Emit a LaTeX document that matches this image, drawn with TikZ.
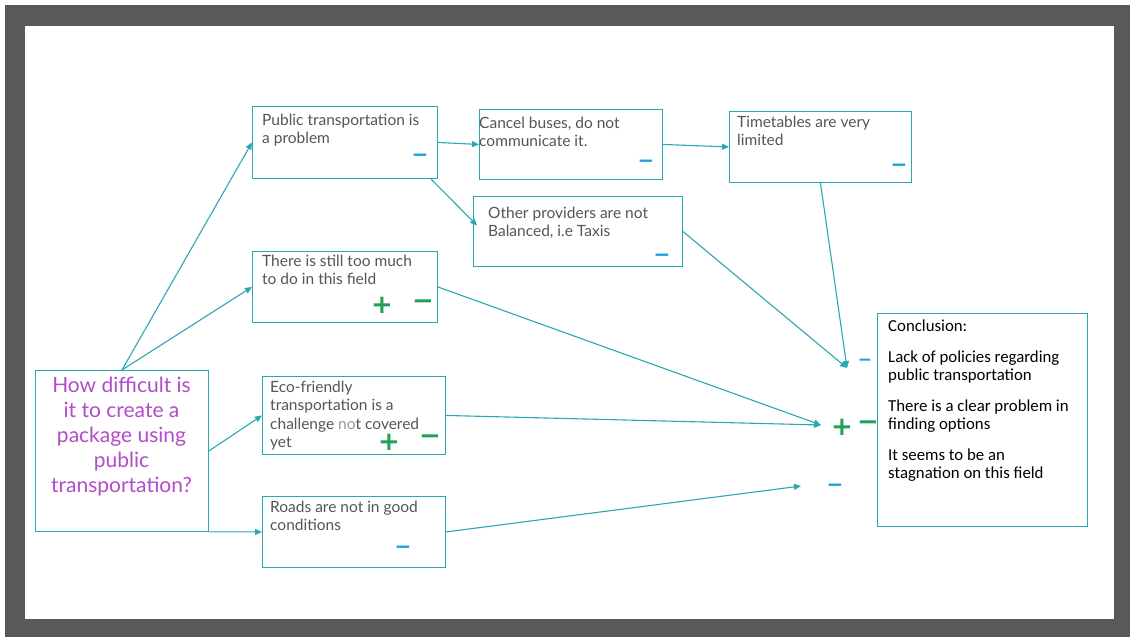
\documentclass[tikz,border=0pt]{standalone}
\usepackage{fontspec}
\setmainfont{Lato}
\newfontfamily\conclfont{Carlito}
\newfontfamily\signfont{DejaVu Sans}
\usetikzlibrary{arrows.meta,calc}
\definecolor{framegray}{HTML}{595959}
\definecolor{linkteal}{HTML}{2AA8B0}
\definecolor{boxtext}{HTML}{555555}
\definecolor{paletext}{HTML}{9A9A9A}
\definecolor{question}{HTML}{B24CC8}
\definecolor{signblue}{HTML}{1E9FD8}
\definecolor{signgreen}{HTML}{22A05A}
\tikzset{
  box/.style={draw=linkteal, line width=0.9pt, inner sep=0pt, anchor=north west},
  btxt/.style={anchor=north west, inner sep=0pt, align=left, text=boxtext,
    font=\fontsize{15.5}{18.2}\selectfont},
  link/.style={draw=linkteal, line width=1.1pt, -{Triangle[length=7pt,width=6pt]}},
  minusblue/.style={inner sep=0pt, text=signblue, font=\signfont\bfseries\fontsize{20}{20}\selectfont},
  signgr/.style={inner sep=0pt, text=signgreen, font=\signfont\bfseries\fontsize{26}{26}\selectfont},
}
\begin{document}
\begin{tikzpicture}[x=1pt,y=-1pt]
\useasboundingbox (0,0) rectangle (1130,637);
% slide frame
\fill[white] (0,0) rectangle (1130,637);
\fill[framegray] (5,5) rectangle (1130,637);
\fill[white] (25,26) rectangle (1114,619);

% boxes
\node[box, minimum width=173pt, minimum height=161pt] (q) at (35,370) {};
\node[box, minimum width=185pt, minimum height=72pt] (p1) at (252,106) {};
\node[box, minimum width=183pt, minimum height=70pt] (c) at (479,109) {};
\node[box, minimum width=209pt, minimum height=70pt] (o) at (473,196) {};
\node[box, minimum width=182pt, minimum height=71pt] (t) at (729,111) {};
\node[box, minimum width=185pt, minimum height=71pt] (s) at (252,251) {};
\node[box, minimum width=183pt, minimum height=78pt] (e) at (262,376) {};
\node[box, minimum width=183pt, minimum height=71pt] (r) at (262,496) {};
\node[box, minimum width=210pt, minimum height=213pt] (k) at (877,313) {};

% texts
\node[inner sep=0pt, align=center, text=question,
  font=\fontsize{21}{25}\selectfont, anchor=north] (qt) at (121.5,377)
  {How difficult is\\it to create a\\package using\\public\\transportation?};
\node[btxt] (p1t) at (262,114) {Public transportation is\\a problem};
\node[btxt] (ct) at (479,117) {Cancel buses, do not\\communicate it.};
\node[btxt] (ot) at (488,207) {Other providers are not\\Balanced, i.e Taxis};
\node[btxt] (tt) at (737,116) {Timetables are very\\limited};
\node[btxt] (st) at (262,255) {There is still too much\\to do in this field};
\node[btxt] (et) at (270,381) {Eco-friendly\\transportation is a\\challenge {\color{paletext}no}t covered\\yet};
\node[btxt] (rt) at (270,501) {Roads are not in good\\conditions};
\node[inner sep=0pt, anchor=north west, align=left, text=black,
  font=\conclfont\fontsize{16.8}{18}\selectfont] (kt) at (888,320)
  {Conclusion:\\[13pt]Lack of policies regarding\\public transportation\\[13pt]There is a clear problem in\\finding options\\[13pt]It seems to be an\\stagnation on this field};

% signs inside boxes
\node[minusblue] (p1m) at (420,158) {−};
\node[minusblue] (cm) at (646,164) {−};
\node[minusblue] (om) at (662,258) {−};
\node[minusblue] (tm) at (899,168) {−};
\node[signgr] (sp) at (382,305) {+};
\node[signgr] (sm) at (423,305) {−};
\node[signgr] (ep) at (389,442) {+};
\node[signgr] (em) at (430,440) {−};
\node[minusblue] (rm) at (403,550) {−};

% signs beside the conclusion
\node[minusblue, font=\signfont\bfseries\fontsize{17}{17}\selectfont] (km1) at (865,362) {−};
\node[signgr] (kp2) at (842,427) {+};
\node[signgr] (km2) at (868,426) {−};
\node[minusblue] (km3) at (835,488) {−};

% arrow ends in front of the conclusion
\coordinate (m1) at (847,368);
\coordinate (m2) at (821,425);
\coordinate (m3) at (801,486);

% connectors
\draw[link] (q.north) -- (p1.west);
\draw[link] (q.north) -- (s.west);
\draw[link] (q.east) -- (e.west);
\draw[link] (q.south east) -- (r.west);
\draw[link] (p1.east) -- (c.west);
\draw[link] ($(p1.south east)+(-7,0)$) -- ($(o.west)+(4,-6)$);
\draw[link] (c.east) -- (t.west);
\draw[link] (t.south) -- (m1);
\draw[link] (o.east) -- (m1);
\draw[link] (s.east) -- (m2);
\draw[link] (e.east) -- (m2);
\draw[link] (r.east) -- (m3);
\end{tikzpicture}
\end{document}
